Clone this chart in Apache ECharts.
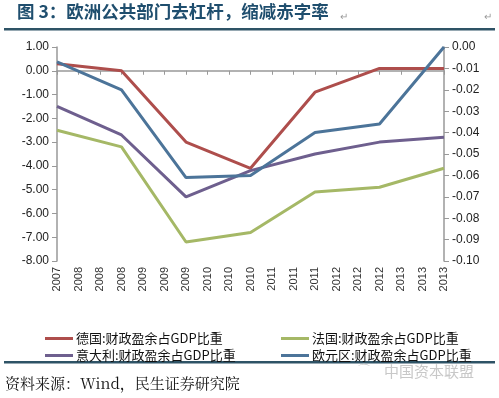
<!DOCTYPE html>
<html><head><meta charset="utf-8">
<script src="https://cdn.jsdelivr.net/npm/echarts@6/dist/echarts.min.js"></script>
<style>html,body{margin:0;padding:0;background:#fff}#c{width:499px;height:398px}</style>
</head><body><div id="c"></div>
<script>
var categories = ['2007','2008','2008','2008','2009','2009','2009','2010','2010','2010','2011','2011','2011','2012','2012','2012','2013','2013','2013'];
var germany = [0.3,null,null,0.0,null,null,-3.0,null,null,-4.1,null,null,-0.9,null,null,0.1,null,null,0.1];
var france  = [-2.5,null,null,-3.2,null,null,-7.2,null,null,-6.8,null,null,-5.1,null,null,-4.9,null,null,-4.1];
var italy   = [-1.5,null,null,-2.7,null,null,-5.3,null,null,-4.2,null,null,-3.5,null,null,-3.0,null,null,-2.8];
var eurozone= [-0.007,null,null,-0.020,null,null,-0.061,null,null,-0.060,null,null,-0.040,null,null,-0.036,null,null,0.0];
var names = ['德国:财政盈余占GDP比重','法国:财政盈余占GDP比重','意大利:财政盈余占GDP比重','欧元区:财政盈余占GDP比重'];
var colors = ['#AE4E4C','#A5B866','#6E5F8E','#4C7499'];

var chart = echarts.init(document.getElementById('c'));
function ser(i, data, yi){
  return {name:names[i], type:'line', data:data, yAxisIndex:yi, xAxisIndex:0, connectNulls:true,
    symbol:'none', lineStyle:{width:3, color:colors[i]}, itemStyle:{color:colors[i]}};
}
var axisCol = '#999';
chart.setOption({
  animation:false,
  color: colors,
  grid:{left:57, right:55, top:47, bottom:137},
  xAxis:[
    {type:'category', data:categories, boundaryGap:false,
     axisLine:{onZero:true, onZeroAxisIndex:0, lineStyle:{color:axisCol, width:1.5}},
     axisTick:{show:true, alignWithLabel:true, length:4, interval:0, lineStyle:{color:axisCol}},
     axisLabel:{show:false}, splitLine:{show:false}},
    {type:'category', data:categories, boundaryGap:false, position:'bottom',
     axisLine:{show:false}, axisTick:{show:false},
     axisLabel:{rotate:90, interval:0, margin:6, fontSize:11, color:'#333', fontFamily:'Liberation Sans'}}
  ],
  yAxis:[
    {type:'value', min:-8, max:1, interval:1, position:'left',
     axisLine:{show:true, lineStyle:{color:axisCol, width:1.5}},
     axisTick:{show:true, length:5, lineStyle:{color:axisCol}},
     splitLine:{show:false},
     axisLabel:{formatter:function(v){return v.toFixed(2);}, fontSize:12, color:'#222', margin:8, fontFamily:'Liberation Sans'}},
    {type:'value', min:-0.1, max:0, interval:0.01, position:'right',
     axisLine:{show:true, lineStyle:{color:axisCol, width:1.5}},
     axisTick:{show:true, length:5, lineStyle:{color:axisCol}},
     splitLine:{show:false},
     axisLabel:{formatter:function(v){return v.toFixed(2);}, fontSize:12, color:'#222', margin:8, fontFamily:'Liberation Sans'}}
  ],
  legend:[
    {data:[names[0],names[2]], orient:'vertical', left:40, top:327, itemGap:4, itemWidth:28, itemHeight:3, icon:'rect',
     textStyle:{fontSize:13, color:'#111', fontFamily:'Noto Sans CJK SC', padding:[0,0,0,-2]}},
    {data:[names[1],names[3]], orient:'vertical', left:276, top:327, itemGap:4, itemWidth:28, itemHeight:3, icon:'rect',
     textStyle:{fontSize:13, color:'#111', fontFamily:'Noto Sans CJK SC', padding:[0,0,0,-2]}}
  ],
  series:[ser(0,germany,0), ser(1,france,0), ser(2,italy,0), ser(3,eurozone,1)],
  graphic:[
    {type:'text', left:17, top:3, style:{text:'图 3：欧洲公共部门去杠杆，缩减赤字率', fontSize:17.5, fontWeight:'bold', fill:'#1F4E6E', fontFamily:'Noto Sans CJK SC'}},
    {type:'text', left:340, top:12, style:{text:'↵', fontSize:10, fill:'#999'}},
    {type:'text', left:484, top:12, style:{text:'↵', fontSize:10, fill:'#999'}},
    {type:'rect', shape:{x:4, y:28, width:491, height:2.5}, style:{fill:'#2E5366'}},
    {type:'rect', shape:{x:4, y:361, width:491, height:2.5}, style:{fill:'#2E5366'}},
    {type:'text', left:384, top:364, style:{text:'中国资本联盟', fontSize:15, fill:'#C8C8C8', fontFamily:'Noto Sans CJK SC'}},
    {type:'text', left:357, top:364, style:{text:'⌒', fontSize:14, fill:'#C8C8C8'}},
    {type:'text', left:5, top:376, style:{text:'资料来源：Wind，民生证券研究院', fontSize:15, fill:'#111', fontFamily:'Noto Serif CJK SC, serif'}}
  ]
});
</script></body></html>
